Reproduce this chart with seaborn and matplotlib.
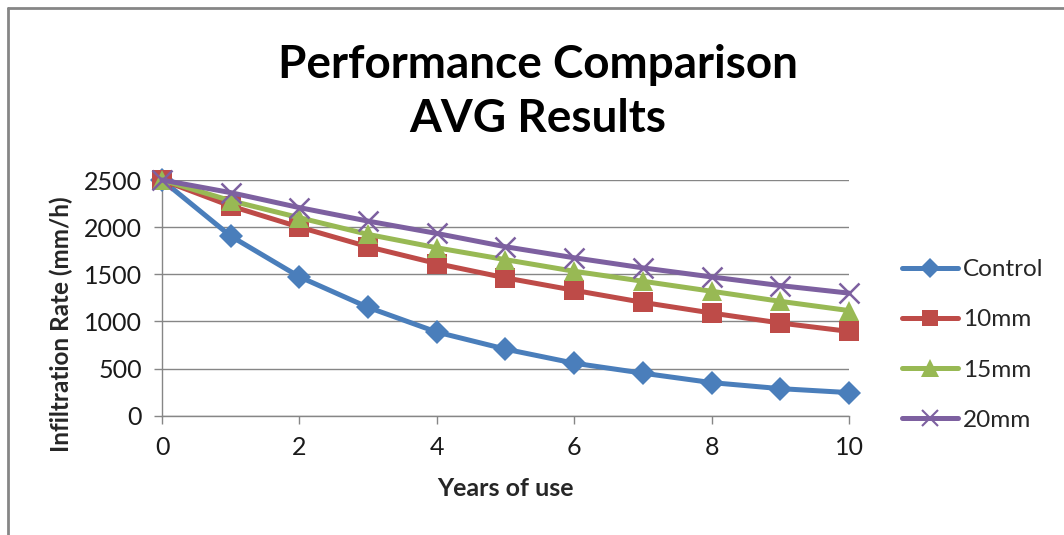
import matplotlib
matplotlib.use("Agg")
import matplotlib.pyplot as plt
from matplotlib.lines import Line2D
import seaborn as sns
import pandas as pd

years = [0, 1, 2, 3, 4, 5, 6, 7, 8, 9, 10]
control = [2500, 1905, 1473, 1149, 887, 706, 557, 451, 351, 287, 245]
mm10 = [2500, 2224, 2000, 1792, 1614, 1462, 1330, 1202, 1089, 983, 894]
mm15 = [2500, 2280, 2100, 1923, 1781, 1655, 1532, 1426, 1320, 1213, 1115]
mm20 = [2500, 2366, 2207, 2064, 1933, 1792, 1675, 1568, 1472, 1380, 1300]
series_names = ["Control", "10mm", "15mm", "20mm"]
title_lines = ["Performance Comparison", "AVG Results"]
x_ticks = [0, 2, 4, 6, 8, 10]
y_ticks = [0, 500, 1000, 1500, 2000, 2500]

sns.set_theme(style="white")
plt.rcParams['font.family'] = ['Lato', 'DejaVu Sans']

colors = {"Control": "#4A7EBB", "10mm": "#BE4B48", "15mm": "#98B954", "20mm": "#7D60A0"}
markers = {"Control": "D", "10mm": "s", "15mm": "^", "20mm": "x"}
msizes = {"Control": 12, "10mm": 14, "15mm": 15, "20mm": 14}

fig = plt.figure(figsize=(10.64, 5.35), dpi=100)
ax = fig.add_axes([162/1064, 1 - 415.7/535, (849 - 162)/1064, (415.7 - 180)/535])

ax.set_axisbelow(True)
ax.yaxis.grid(True, color="#868686", linewidth=1.0)
ax.xaxis.grid(False)

for name, vals in zip(series_names, [control, mm10, mm15, mm20]):
    df = pd.DataFrame({"Years of use": years, "Rate": vals})
    is_x = markers[name] == "x"
    sns.lineplot(data=df, x="Years of use", y="Rate", color=colors[name],
                 marker=markers[name], markersize=msizes[name],
                 markeredgewidth=1.8 if is_x else 0,
                 markeredgecolor=colors[name],
                 linewidth=3.6, ax=ax, label=name, legend=False, zorder=3,
                 clip_on=False)

ax.set_xlim(0, 10)
ax.set_ylim(0, 2500)
ax.set_xticks(x_ticks)
ax.set_yticks(y_ticks)
ax.tick_params(axis="both", labelsize=18, colors="#868686", labelcolor="#1a1a1a",
               length=5.5, width=1, direction="out", bottom=True, left=True)
ax.tick_params(axis="x", pad=9)
ax.tick_params(axis="y", pad=9)

for s in ["top", "right"]:
    ax.spines[s].set_visible(False)
for s in ["left", "bottom"]:
    ax.spines[s].set_color("#868686")
    ax.spines[s].set_linewidth(1.0)

ax.set_xlabel("Years of use", fontsize=18, fontweight="bold")
ax.xaxis.set_label_coords(0.5, (415.7 - 477) / 235.7)
ax.set_ylabel("Infiltration Rate (mm/h)", fontsize=17.5, fontweight="bold")
ax.yaxis.set_label_coords((73 - 162) / 687, (415.7 - 324) / 235.7)

fig.text(538/1064, 1 - 78/535, title_lines[0], ha="center", va="baseline",
         fontsize=33, fontweight="bold", color="black")
fig.text(538/1064, 1 - 132/535, title_lines[1], ha="center", va="baseline",
         fontsize=33, fontweight="bold", color="black")

handles = []
for name in series_names:
    h = Line2D([0], [0], color=colors[name], linewidth=3.6, marker=markers[name],
               markersize=msizes[name] * 0.85,
               markeredgewidth=1.5 if markers[name] == "x" else 0,
               markeredgecolor=colors[name])
    handles.append(h)
fig.legend(handles, series_names, loc="center left",
           bbox_to_anchor=(880/1064, 1 - 345/535), frameon=False, fontsize=17.5,
           handlelength=2.3, handletextpad=0.2, labelspacing=1.2)

fig.add_artist(Line2D([8/1064, 1.0], [1 - 8/535, 1 - 8/535], transform=fig.transFigure,
                      color="#868686", linewidth=2))
fig.add_artist(Line2D([8/1064, 8/1064], [0, 1 - 8/535], transform=fig.transFigure,
                      color="#868686", linewidth=2))

fig.savefig("out.png", dpi=100)
